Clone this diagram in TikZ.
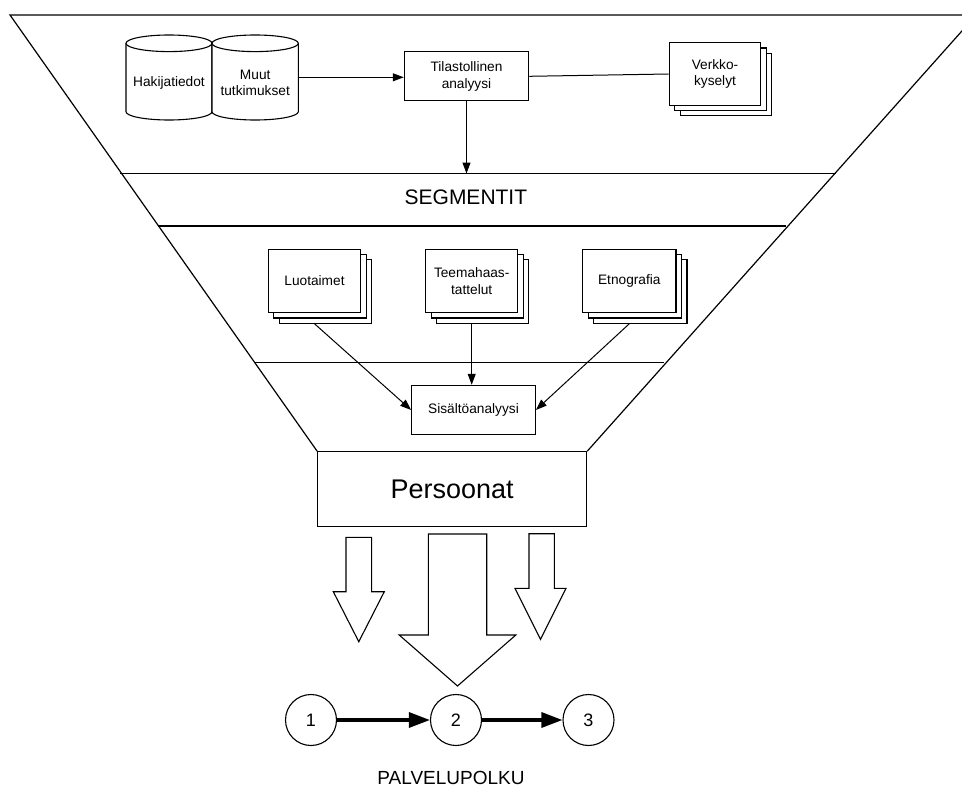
\documentclass[tikz,border=0pt]{standalone}
\usepackage{fontspec}
\setmainfont{Liberation Sans}
\usetikzlibrary{arrows.meta,shadows}
\begin{document}
\begin{tikzpicture}[x=1pt,y=-1pt,line join=miter,
  outline/.style={line width=1.2pt},
  box/.style={draw, fill=white, line width=1.1pt, inner sep=0pt, align=center,
    font=\fontsize{13.7}{16.5}\selectfont},
  docstack/.style={box, double copy shadow={shadow xshift=5.5pt, shadow yshift=-5.3pt,
    line width=1.1pt, draw=black, fill=white}},
  cyl/.style={line width=1.1pt, fill=white},
  flow/.style={line width=1pt, -{Triangle[length=11pt,width=8pt]}},
  hollow/.style={draw, fill=white, line width=1.1pt},
  stage/.style={circle, draw, fill=white, line width=1.1pt, minimum size=51pt, inner sep=0pt,
    font=\fontsize{18}{18}\selectfont},
  route/.style={line width=3.2pt, -{Triangle[length=21pt,width=15pt]}},
  caption/.style={inner sep=0pt}
]
\useasboundingbox (0,0) rectangle (962,792);
\clip (0,0) rectangle (962,792);

% main blocks
\node[box, minimum width=269pt, minimum height=74.3pt, font=\fontsize{27}{30}\selectfont]
  (pers) at (452.2,488.9) {Persoonat};

% funnel outline and band separators
\draw[outline] (976.2,15) -- (10,15) -- (pers.north west);
\draw[outline] (976.2,15) -- (pers.north east);
\draw[outline] (120,173.5) -- (836,173.5);
\draw[outline] (158,226) -- (786,226);
\draw[outline] (254,362.5) -- (664,362.5);

% data sources (two cylinders)
\draw[cyl] (126,43.3) -- (126,111.7) arc[start angle=180, end angle=360, x radius=43pt, y radius=8.3pt] -- (212,43.3);
\draw[cyl] (169,43.3) ellipse [x radius=43pt, y radius=8.3pt];
\draw[cyl] (212,43.3) -- (212,111.7) arc[start angle=180, end angle=360, x radius=43.15pt, y radius=8.3pt] -- (298.3,43.3);
\draw[cyl] (255.15,43.3) ellipse [x radius=43.15pt, y radius=8.3pt];
\node[caption, font=\fontsize{13.7}{16.5}\selectfont] (haki) at (169,83) {Hakijatiedot};
\node[caption, font=\fontsize{13.7}{16.5}\selectfont, align=center] (muut) at (255.2,83) {Muut\\tutkimukset};
\coordinate (muutR) at (298.3,77.3);

\node[box, minimum width=124.4pt, minimum height=49.3pt] (tila) at (466.5,76.3) {Tilastollinen\\analyysi};
\node[docstack, minimum width=91.5pt, minimum height=62.6pt] (verk) at (715,74) {Verkko-\\kyselyt};

\node[caption, font=\fontsize{21}{24}\selectfont] (seg) at (465.9,197.3) {SEGMENTIT};
\coordinate (segtop) at (466.5,173.5);

\node[docstack, minimum width=92.4pt, minimum height=63.4pt] (luot) at (314.5,281) {Luotaimet};
\node[docstack, minimum width=92pt, minimum height=63.4pt] (teem) at (471.7,281) {Teemahaas-\\tattelut};
\node[docstack, minimum width=93.3pt, minimum height=63.4pt] (etno) at (629.3,281) {Etnografia};
\coordinate (luotB) at ([yshift=-10.5pt]luot.south);
\coordinate (teemB) at ([yshift=-10.5pt]teem.south);
\coordinate (etnoB) at ([yshift=-10.5pt]etno.south);

\node[box, minimum width=123.6pt, minimum height=49.4pt] (sis) at (473.5,410) {Sisältöanalyysi};

% connectors
\draw[flow] (muutR) -- (muutR -| tila.west);
\draw[line width=1pt] (tila.east) -- (verk.west);
\draw[flow] (tila.south) -- (segtop);
\draw[flow] (luotB) -- (sis.west);
\draw[flow] (teemB) -- (teemB |- sis.north);
\draw[flow] (etnoB) -- (sis.east);

% hollow arrows below the personas
\draw[hollow] (346,537.3) -- (371.6,537.3) -- (371.6,591.7) -- (384.3,591.7) -- (358.8,641.7)
  -- (333.3,591.7) -- (346,591.7) -- cycle;
\draw[hollow] (428.3,534) -- (486.7,534) -- (486.7,635) -- (515.8,635) -- (457.5,686)
  -- (399.2,635) -- (428.3,635) -- cycle;
\draw[hollow] (529,533.7) -- (554.3,533.7) -- (554.3,588.3) -- (566,588.3) -- (540.5,639.3)
  -- (515,588.3) -- (529,588.3) -- cycle;

% service path
\node[stage] (c1) at (311,720) {1};
\node[stage] (c2) at (456,720) {2};
\node[stage] (c3) at (588.5,720) {3};
\draw[route] (c1) -- (c2);
\draw[route] (c2) -- (c3);
\node[caption, font=\fontsize{19}{22}\selectfont] (palv) at (451,778) {PALVELUPOLKU};
\end{tikzpicture}
\end{document}
